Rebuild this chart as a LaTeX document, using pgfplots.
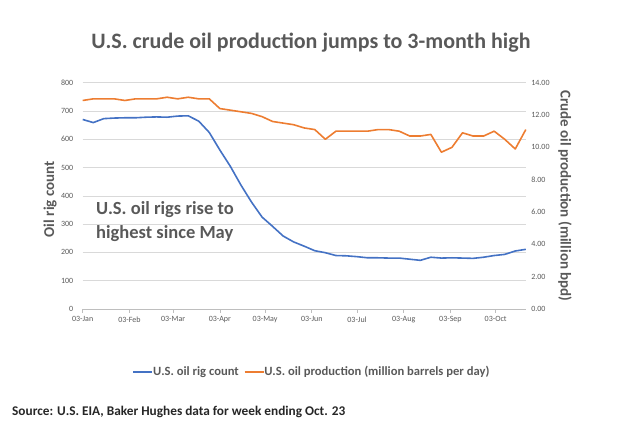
\documentclass[border=0pt]{standalone}
\usepackage{pgfplots}
\pgfplotsset{compat=1.18}
\usepackage{fontspec}
\setmainfont{Carlito}
\definecolor{cblue}{HTML}{4472C4}
\definecolor{corange}{HTML}{ED7D31}
\definecolor{cgrid}{HTML}{D9D9D9}
\definecolor{ctext}{HTML}{595959}
\begin{document}
\begin{tikzpicture}
\path[use as bounding box] (0pt,0pt) rectangle (624pt,436pt);
% title
\node[font=\fontsize{22}{26}\selectfont\bfseries, text=ctext] at (311pt,393pt) {U.S. crude oil production jumps to 3-month high};
% left axis: rig count
\begin{axis}[
  at={(82.7pt,127pt)}, anchor=south west,
  scale only axis, width=443.1pt, height=226.3pt,
  xmin=0, xmax=294, ymin=0, ymax=800,
  ytick={0,100,...,800},
  xtick={0,31,60,91,121,152,182,213,244,274},
  xticklabels={03-Jan,03-Feb,03-Mar,03-Apr,03-May,03-Jun,03-Jul,03-Aug,03-Sep,03-Oct},
  axis lines*=left,
  x axis line style={draw=cgrid!70!gray, line width=0.6pt},
  y axis line style={draw=none},
  ytick style={draw=none},
  xtick style={draw=cgrid!70!gray, line width=0.6pt},
  tick align=outside, major tick length=4pt,
  ymajorgrids, grid style={cgrid, line width=0.6pt},
  tick label style={font=\fontsize{8}{9}\selectfont, text=ctext},
  /pgf/number format/assume math mode=true,
  yticklabel style={xshift=-2pt},
  ylabel={Oil rig count},
  every axis y label/.append style={at={(rel axis cs:-0.0735,0.485)}, anchor=center, rotate=0},
  label style={font=\fontsize{15}{18}\selectfont\bfseries, text=ctext},
  clip=false,
]
\addplot[cblue, line width=1.6pt, line join=round] coordinates {
(0,670) (7,659) (14,673) (21,675) (28,676) (35,676) (42,678) (49,679) (56,678) (63,682) (70,683) (77,664) (84,624)
(91,562) (98,504) (105,438) (112,378) (119,325) (126,292) (133,258) (140,237) (147,222) (154,206) (161,199)
(168,189) (175,188) (182,185) (189,181) (196,181) (203,180) (210,180) (217,176) (224,172) (231,183) (238,180)
(245,181) (252,180) (259,179) (266,183) (273,189) (280,193) (287,205) (294,211)
};
\end{axis}
% right axis: production
\begin{axis}[
  at={(82.7pt,127pt)}, anchor=south west,
  scale only axis, width=443.1pt, height=226.3pt,
  xmin=0, xmax=294, ymin=0, ymax=14,
  ytick={0,2,...,14},
  hide x axis,
  axis y line*=right,
  y axis line style={draw=none},
  ytick style={draw=none},
  tick label style={font=\fontsize{8}{9}\selectfont, text=ctext},
  /pgf/number format/assume math mode=true,
  yticklabel style={/pgf/number format/.cd, fixed, fixed zerofill, precision=2, /tikz/.cd, xshift=2pt},
  ylabel={Crude oil production (million bpd)},
  every axis y label/.append style={at={(rel axis cs:1.0885,0.5)}, anchor=center, rotate=180},
  label style={font=\fontsize{15}{18}\selectfont\bfseries, text=ctext},
  legend style={at={(rel axis cs:0.5175,-0.278)}, anchor=center, draw=none, fill=none,
    font=\fontsize{12.6}{15}\selectfont\bfseries, text=ctext, legend columns=2,
    /tikz/every even column/.append style={column sep=3pt},
    /tikz/every odd column/.append style={column sep=-2pt}},
  legend image code/.code={\draw[#1] (0pt,0pt) -- (19pt,0pt);},
  clip=false,
]
\addlegendimage{cblue, line width=1.6pt}
\addlegendentry{U.S. oil rig count}
\addplot[corange, line width=1.6pt, line join=round] coordinates {
(0,12.9) (7,13.0) (14,13.0) (21,13.0) (28,12.9) (35,13.0) (42,13.0) (49,13.0) (56,13.1) (63,13.0) (70,13.1) (77,13.0) (84,13.0)
(91,12.4) (98,12.3) (105,12.2) (112,12.1) (119,11.9) (126,11.6) (133,11.5) (140,11.4) (147,11.2) (154,11.1) (161,10.5)
(168,11.0) (175,11.0) (182,11.0) (189,11.0) (196,11.1) (203,11.1) (210,11.0) (217,10.7) (224,10.7) (231,10.8) (238,9.7)
(245,10.0) (252,10.9) (259,10.7) (266,10.7) (273,11.0) (280,10.5) (287,9.9) (294,11.1)
};
\addlegendentry{U.S. oil production (million barrels per day)}
\end{axis}
% annotation
\node[anchor=north west, align=left, font=\fontsize{18.5}{24}\selectfont\bfseries, text=ctext, inner sep=0pt] at (96pt,235pt) {U.S. oil rigs rise to\\highest since May};
% source
\node[anchor=west, font=\fontsize{13.3}{15}\selectfont\bfseries, text=black!85, inner sep=0pt] at (12pt,24pt) {Source: U.S. EIA, Baker Hughes data for week ending Oct. 23};
\end{tikzpicture}
\end{document}
